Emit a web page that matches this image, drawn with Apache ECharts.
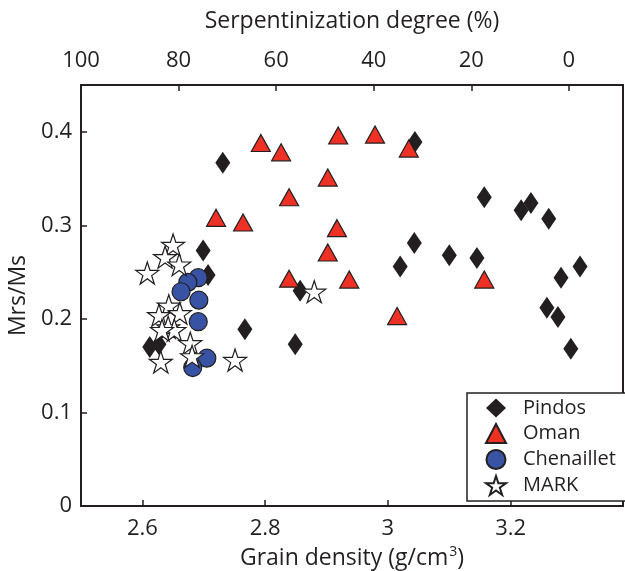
<!DOCTYPE html>
<html>
<head>
<meta charset="utf-8">
<script src="https://cdn.jsdelivr.net/npm/echarts@6/dist/echarts.min.js"></script>
<style>
html, body { margin: 0; padding: 0; background: #fff; }
#main { width: 625px; height: 571px; }
</style>
</head>
<body>
<div id="main"></div>
<script>
// values
var pindosDensity = [2.731, 3.044, 3.157, 3.217, 3.233, 3.262, 2.699, 2.707, 3.043, 3.100, 3.145,
                     3.020, 3.282, 3.313, 2.857, 3.259, 3.277, 3.298, 2.767, 2.849, 2.612, 2.627];
var pindosRatio   = [0.367, 0.389, 0.330, 0.316, 0.324, 0.307, 0.273, 0.247, 0.281, 0.268, 0.265,
                     0.256, 0.244, 0.256, 0.230, 0.212, 0.202, 0.168, 0.189, 0.173, 0.170, 0.173];

var omanDensity = [2.793, 2.826, 2.919, 2.979, 3.034, 2.902, 2.839, 2.720, 2.764, 2.917, 2.902,
                   2.839, 2.937, 3.015, 3.157];
var omanRatio   = [0.388, 0.378, 0.396, 0.397, 0.382, 0.351, 0.330, 0.308, 0.303, 0.297, 0.271,
                   0.243, 0.242, 0.203, 0.242];

var chenDensity = [2.691, 2.674, 2.663, 2.692, 2.691, 2.705, 2.682];
var chenRatio   = [0.244, 0.239, 0.229, 0.220, 0.197, 0.158, 0.148];

var markDensity = [2.650, 2.637, 2.660, 2.608, 2.643, 2.627, 2.661, 2.642, 2.652, 2.632,
                   2.678, 2.681, 2.630, 2.751, 2.880];
var markRatio   = [0.279, 0.266, 0.258, 0.249, 0.214, 0.204, 0.206, 0.191, 0.188, 0.188,
                   0.174, 0.160, 0.154, 0.156, 0.229];

var densityTicks = [2.6, 2.8, 3.0, 3.2];
var serpTicks = [0, 20, 40, 60, 80, 100];

var ink = '#231f20';
var font = 'Open Sans';
var star = 'path://M50 0 L61.23 34.55 L97.55 34.55 L68.17 55.9 L79.39 90.45 L50 69.1 L20.61 90.45 L31.83 55.9 L2.45 34.55 L38.77 34.55 Z';

function pairs(xs, ys) {
    return xs.map(function (x, i) { return [x, ys[i]]; });
}

var myChart = echarts.init(document.getElementById('main'));

var option = {
    animation: false,
    backgroundColor: '#fff',
    grid: {
        left: 81, right: 2, top: 85, bottom: 65,
        show: true, borderColor: ink, borderWidth: 2,
        outerBoundsMode: 'none'
    },
    legend: {
        orient: 'vertical',
        left: 467, top: 393,
        backgroundColor: '#fff',
        borderColor: ink, borderWidth: 1.5,
        padding: [5, 10, 5, 18],
        itemGap: 5,
        itemWidth: 20, itemHeight: 19,
        textStyle: { fontFamily: font, fontSize: 20, color: ink, padding: [0, 0, 0, 12] },
        data: ['Pindos', 'Oman', 'Chenaillet', 'MARK']
    },
    xAxis: [
        {
            type: 'value',
            min: 2.5, max: 3.383,
            position: 'bottom',
            name: '{a|Grain density (g/cm}{sup|3}{a|)}',
            nameLocation: 'middle',
            nameGap: 38,
            nameTextStyle: {
                rich: {
                    a: { fontFamily: font, fontSize: 23, color: ink },
                    sup: { fontFamily: font, fontSize: 14, color: ink, padding: [0, 0, 14, 1] }
                }
            },
            axisLine: { onZero: false, lineStyle: { color: ink, width: 2 } },
            axisTick: { inside: true, length: 6, customValues: densityTicks, lineStyle: { color: ink, width: 1.5 } },
            axisLabel: { customValues: densityTicks, margin: 12, fontFamily: font, fontSize: 22, color: ink },
            splitLine: { show: false }
        },
        {
            type: 'value',
            min: -11.1, max: 100,
            inverse: true,
            position: 'top',
            name: 'Serpentinization degree (%)',
            nameLocation: 'middle',
            nameGap: 52,
            nameTextStyle: { fontFamily: font, fontSize: 23, color: ink },
            axisLine: { onZero: false, lineStyle: { color: ink, width: 2 } },
            axisTick: { inside: true, length: 6, customValues: serpTicks, lineStyle: { color: ink, width: 1.5 } },
            axisLabel: { customValues: serpTicks, margin: 13, fontFamily: font, fontSize: 22, color: ink },
            splitLine: { show: false }
        }
    ],
    yAxis: {
        type: 'value',
        min: 0, max: 0.45,
        interval: 0.1,
        name: 'Mrs/Ms',
        nameLocation: 'middle',
        nameGap: 48,
        nameTextStyle: { fontFamily: font, fontSize: 23, color: ink },
        axisLine: { show: true, onZero: false, lineStyle: { color: ink, width: 2 } },
        axisTick: { show: true, inside: true, length: 6, lineStyle: { color: ink, width: 1.5 } },
        axisLabel: { showMaxLabel: false, margin: 9, fontFamily: font, fontSize: 22, color: ink },
        splitLine: { show: false }
    },
    series: [
        {
            name: 'Pindos', type: 'scatter',
            symbol: 'diamond', symbolSize: [15, 22],
            itemStyle: { color: ink, opacity: 1 },
            data: pairs(pindosDensity, pindosRatio)
        },
        {
            name: 'Oman', type: 'scatter',
            symbol: 'triangle', symbolSize: [19, 17],
            itemStyle: { color: '#ee3124', borderColor: ink, borderWidth: 1.2, opacity: 1 },
            data: pairs(omanDensity, omanRatio)
        },
        {
            name: 'Chenaillet', type: 'scatter',
            symbol: 'circle', symbolSize: 18,
            itemStyle: { color: '#3953a4', borderColor: ink, borderWidth: 1.2, opacity: 1 },
            data: pairs(chenDensity, chenRatio)
        },
        {
            name: 'MARK', type: 'scatter',
            symbol: star, symbolSize: [23, 22],
            itemStyle: { color: '#fff', borderColor: ink, borderWidth: 1.2, opacity: 1 },
            data: pairs(markDensity, markRatio)
        }
    ]
};

myChart.setOption(option);
</script>
</body>
</html>
